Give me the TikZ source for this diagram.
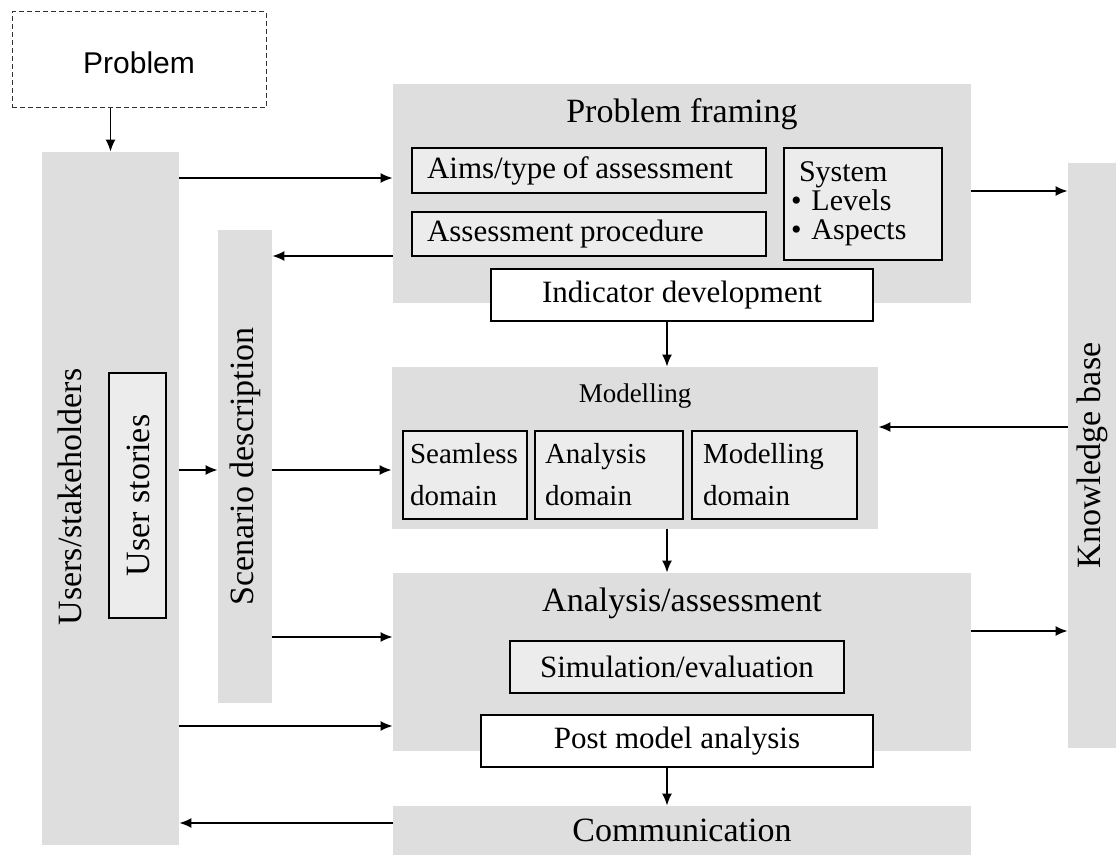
\documentclass[tikz,border=0pt]{standalone}
\usepackage{fontspec}
\setmainfont{Liberation Serif}
\newfontfamily\arialfont{Liberation Sans}
\usepackage{tikz}
\usetikzlibrary{arrows.meta, positioning}

\definecolor{boxgray}{gray}{0.87}
\definecolor{innergray}{gray}{0.925}
\newcommand\szL{\fontsize{17}{19}\selectfont}
\newcommand\szM{\fontsize{15.5}{17}\selectfont}
\newcommand\szS{\fontsize{14.5}{21}\selectfont}

\begin{document}
\begin{tikzpicture}[x=0.5pt, y=-0.5pt,
    outer/.style={fill=boxgray, inner sep=0pt},
    inner/.style={draw, fill=innergray, line width=0.7pt, inner sep=0pt},
    plain/.style={draw, fill=white, line width=0.7pt, inner sep=0pt},
    arr/.style={-{Latex[length=6pt,width=5pt]}, line width=0.85pt}]
      \useasboundingbox (0,0) rectangle (1116,855);
      % problem and users
      \node[draw=black!80, dash pattern=on 2.5pt off 1.5pt, line width=0.5pt,
        minimum width=127pt, minimum height=48pt] (problem) at (139,60) {};
      \node at (139,63) {\arialfont\fontsize{15}{17}\selectfont Problem};
      \node[outer, minimum width=68.5pt, minimum height=346.5pt] (users) at (110.5,498.5) {};
      \node[rotate=90] at (70,497) {\szL Users/stakeholders};
      \node[inner, minimum width=28.5pt, minimum height=122.5pt]
        (stories) at (137.5,495.5) {};
      \node[rotate=90] at (138,495.5) {\szL User stories};
      \node[outer, minimum width=27pt, minimum height=236.5pt] (scen) at (245,466.5) {};
      \node[rotate=90] at (245,466.5) {\szL Scenario description};
      % problem framing
      \node[outer, minimum width=289pt, minimum height=109.5pt] (frame) at (682,193.5) {};
      \node[anchor=base] at (682,123) {\szL Problem framing};
      \node[inner, minimum height=22.5pt, text width=162pt, inner xsep=7.5pt, align=left]
        (aims) at (589,170.5) {\szM Aims/type of assessment};
      \node[inner, minimum height=22pt, text width=162pt, inner xsep=7.5pt, align=left]
        (proc) at (589,234) {\szM Assessment procedure};
      \node[inner, minimum height=56pt, text width=72pt, inner xsep=3.5pt, align=left,
        font=\fontsize{15}{14.5}\selectfont]
        (system) at (863,204) {\hspace{4pt}System\\
        \textbullet\hspace{5pt}Levels\\ \textbullet\hspace{5pt}Aspects};
      \node[plain, minimum width=191pt, minimum height=26pt] (indic) at (682,295)
        {\szM Indicator development};
      % modelling
      \node[outer, minimum width=243pt, minimum height=81pt] (model) at (635,448) {};
      \node[anchor=base] at (635,403) {\fontsize{13.5}{15}\selectfont Modelling};
      \node[inner, minimum height=44pt, text width=55pt, inner xsep=3.5pt, align=left,
        font=\szS] (seam) at (465,475) {Seamless\\ domain};
      \node[inner, minimum height=44pt, text width=64pt, inner xsep=5pt, align=left,
        font=\szS] (anadom) at (609,475) {Analysis\\ domain};
      \node[inner, minimum height=44pt, text width=71.5pt, inner xsep=5.5pt, align=left,
        font=\szS] (moddom) at (774.5,475) {Modelling\\ domain};
      % analysis and communication
      \node[outer, minimum width=289pt, minimum height=89pt] (anal) at (682,662) {};
      \node[anchor=base] at (682,612) {\szL Analysis/assessment};
      \node[inner, minimum width=167pt, minimum height=26pt] (simul) at (677,667)
        {\szM Simulation/evaluation};
      \node[plain, minimum width=196pt, minimum height=26pt] (post) at (677,741)
        {\szM Post model analysis};
      \node[outer, minimum width=289pt, minimum height=24.5pt] (comm) at (682,830.5)
        {\szL Communication};
      \node[outer, minimum width=24pt, minimum height=292.5pt] (know) at (1092,455.5) {};
      \node[rotate=90] at (1092,455.5) {\szL Knowledge base};
      % arrows
      \draw[arr] (users.north |- problem.south) -- (users.north);
      \draw[arr] (users.east |- 0,178) -- (frame.west |- 0,178);
      \draw[arr] (frame.west |- 0,256) -- (scen.east |- 0,256);
      \draw[arr] (users.east |- 0,470) -- (scen.west |- 0,470);
      \draw[arr] (scen.east |- 0,470) -- (model.west |- 0,470);
      \draw[arr] (scen.east |- 0,637) -- (anal.west |- 0,637);
      \draw[arr] (users.east |- 0,726) -- (anal.west |- 0,726);
      \draw[arr] (comm.west |- 0,823) -- (users.east |- 0,823);
      \draw[arr] (indic.south -| 667,0) -- (model.north -| 667,0);
      \draw[arr] (model.south -| 667,0) -- (anal.north -| 667,0);
      \draw[arr] (post.south -| 667,0) -- (comm.north -| 667,0);
      \draw[arr] (frame.east |- 0,191) -- (know.west |- 0,191);
      \draw[arr] (know.west |- 0,427) -- (model.east |- 0,427);
      \draw[arr] (anal.east |- 0,631) -- (know.west |- 0,631);
\end{tikzpicture}
\end{document}
